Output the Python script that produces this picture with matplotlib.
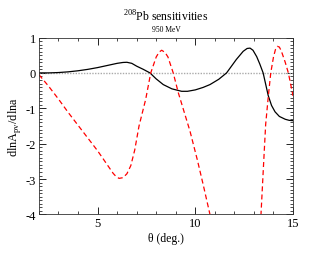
import matplotlib
matplotlib.use("Agg")
import matplotlib.pyplot as plt
from matplotlib.ticker import MultipleLocator

plt.rcParams['font.family'] = ['Liberation Serif', 'DejaVu Serif']
plt.rcParams['axes.unicode_minus'] = False
plt.rcParams['mathtext.fontset'] = 'custom'
plt.rcParams['mathtext.rm'] = 'Liberation Serif'

theta_black = [2.0, 2.5, 3.0, 3.5, 4.0, 4.5, 5.0, 5.5, 6.0, 6.3, 6.5, 6.75, 7.0, 7.34, 7.68,
               8.0, 8.36, 8.8, 9.3, 9.6, 10.0, 10.4, 10.75, 11.2, 11.6, 12.1,
               12.45, 12.65, 12.8, 12.95, 13.14, 13.3, 13.47, 13.6, 13.73, 13.9, 14.08, 14.3, 14.6, 14.8, 15.0]
sens_black = [0.0, 0.0, 0.01, 0.03, 0.06, 0.10, 0.15, 0.21, 0.27, 0.295, 0.30, 0.27, 0.19, 0.10, 0.0,
              -0.17, -0.33, -0.45, -0.52, -0.52, -0.48, -0.41, -0.33, -0.18, 0.0, 0.38,
              0.61, 0.69, 0.70, 0.64, 0.46, 0.25, 0.0, -0.32, -0.64, -0.92, -1.10, -1.23, -1.31, -1.34, -1.35]

theta_red = [2.0, 2.5, 3.0, 3.5, 4.0, 4.5, 5.0, 5.5, 5.8, 5.95, 6.1, 6.3, 6.5, 6.7, 6.9, 7.12, 7.46,
             7.72, 8.0, 8.15, 8.28, 8.45, 8.6, 8.87, 9.13, 9.4, 9.73, 10.1, 10.4, 10.75, 11.2, 12.0, 12.8,
             13.36, 13.5, 13.6, 13.73, 13.86, 14.0, 14.1, 14.2, 14.3, 14.4, 14.6, 14.76, 15.0]
sens_red = [-0.05, -0.38, -0.74, -1.12, -1.48, -1.84, -2.2, -2.6, -2.84, -2.93, -2.98, -2.96, -2.85, -2.62, -2.18, -1.5, -0.75,
            0.0, 0.45, 0.59, 0.64, 0.58, 0.45, 0.0, -0.56, -1.05, -1.65, -2.45, -3.15, -4.0, -5.0, -6.0, -5.2,
            -4.0, -2.5, -1.45, -0.69, 0.0, 0.45, 0.66, 0.75, 0.73, 0.62, 0.3, 0.0, -0.65]

fig = plt.figure(figsize=(3.3, 2.55), dpi=100)
ax = fig.add_axes([0.118, 0.155, 0.770, 0.694])

ax.axhline(0, color='#aaaaaa', lw=1.0, ls=(0, (1, 1)))
ax.plot(theta_black, sens_black, color='black', lw=0.9)
ax.plot(theta_red, sens_red, color='red', lw=0.9, ls=(0, (4, 2.5)))

ax.set_xlim(2, 15)
ax.set_ylim(-4, 1)
ax.xaxis.set_major_locator(MultipleLocator(5))
ax.xaxis.set_minor_locator(MultipleLocator(1))
ax.yaxis.set_major_locator(MultipleLocator(1))
ax.yaxis.set_minor_locator(MultipleLocator(0.1))
ax.tick_params(which='both', direction='in', top=True, right=True, labelsize=9, pad=2)
ax.tick_params(which='major', length=5, width=0.6)
ax.tick_params(which='minor', length=2.5, width=0.5)
for s in ax.spines.values():
    s.set_linewidth(0.6)
    s.set_color('#333333')

ax.set_xlabel('θ (deg.)', fontsize=8.5, labelpad=2)
ax.set_ylabel('dlnA$_{\\rm pv}$/dlna', fontsize=8.8, labelpad=2)
fig.text(0.503, 0.905, '$^{208}$Pb sensitivities', ha='center', va='bottom', fontsize=8.5)
fig.text(0.503, 0.868, '950 MeV', ha='center', va='bottom', fontsize=5.5)

fig.savefig('out.png', dpi=100)
